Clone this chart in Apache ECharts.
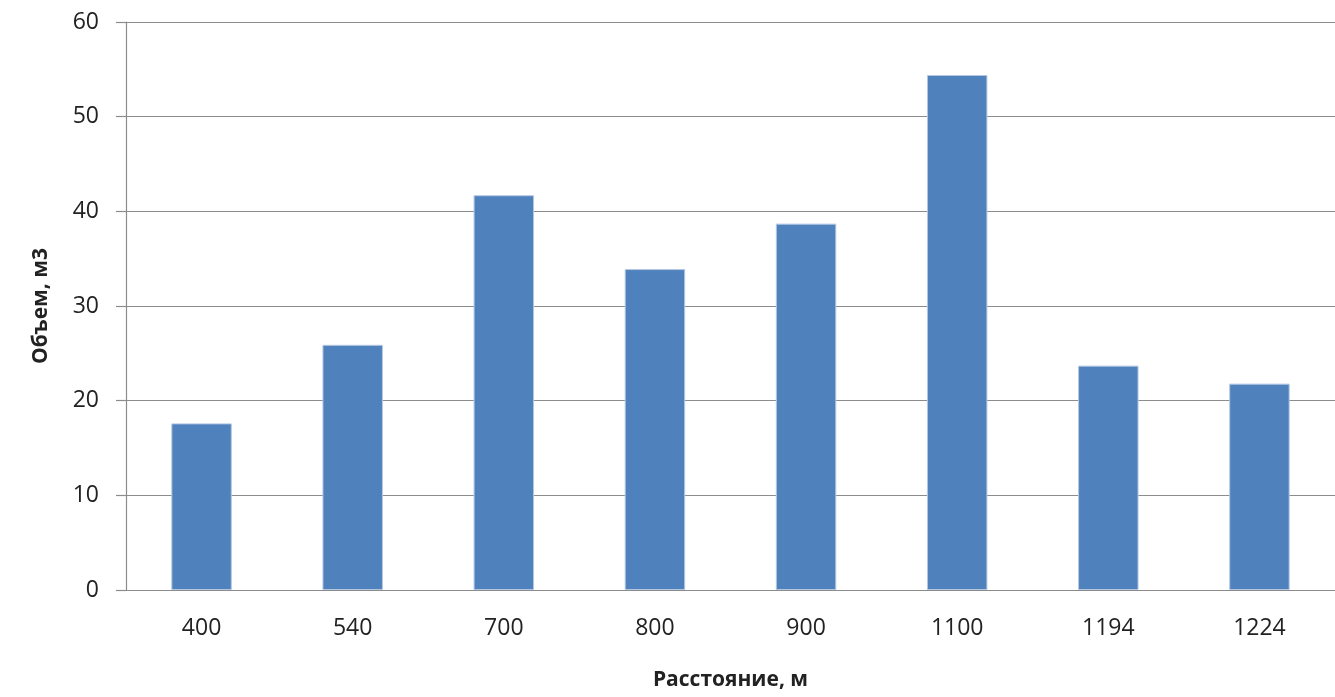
<!DOCTYPE html>
<html>
<head>
<meta charset="utf-8">
<script src="https://cdn.jsdelivr.net/npm/echarts@6/dist/echarts.min.js"></script>
<style>
  html, body { margin: 0; padding: 0; background: #fff; }
  #chart { width: 1335px; height: 697px; }
</style>
</head>
<body>
<div id="chart"></div>
<script>
// Distance categories (m) and volume per distance (m3)
const distances = ['400', '540', '700', '800', '900', '1100', '1194', '1224'];
const volumes = [17.6, 25.9, 41.7, 33.9, 38.7, 54.4, 23.7, 21.8];

const textColor = '#222222';
const lineColor = '#8c8c8c';
const fontFamily = '"Open Sans", "Noto Sans", sans-serif';

const chart = echarts.init(document.getElementById('chart'));
chart.setOption({
  animation: false,
  backgroundColor: '#ffffff',
  grid: { left: 126, right: 0, top: 22, bottom: 107 },
  xAxis: {
    type: 'category',
    data: distances,
    name: 'Расстояние, м',
    nameLocation: 'middle',
    nameGap: 80,
    nameTextStyle: { color: textColor, fontSize: 21, fontWeight: 'bold', fontFamily: fontFamily },
    axisLine: { lineStyle: { color: lineColor, width: 1.2 } },
    axisTick: { show: false },
    axisLabel: { color: textColor, fontSize: 23, margin: 27, fontFamily: fontFamily }
  },
  yAxis: {
    type: 'value',
    min: 0,
    max: 60,
    interval: 10,
    name: 'Объем, м3',
    nameLocation: 'middle',
    nameGap: 74,
    nameRotate: 90,
    nameTextStyle: { color: textColor, fontSize: 21, fontWeight: 'bold', fontFamily: fontFamily },
    axisLine: { show: true, lineStyle: { color: lineColor, width: 1.2 } },
    axisTick: { show: true, inside: false, length: 10, lineStyle: { color: lineColor, width: 1.2 } },
    axisLabel: { color: textColor, fontSize: 23, margin: 27, fontFamily: fontFamily },
    splitLine: { show: true, lineStyle: { color: lineColor, width: 1.2 } }
  },
  series: [{
    type: 'bar',
    data: volumes,
    barWidth: '40%',
    itemStyle: { color: '#4f81bd', borderColor: '#b3c7e3', borderWidth: 1 }
  }]
});
</script>
</body>
</html>
